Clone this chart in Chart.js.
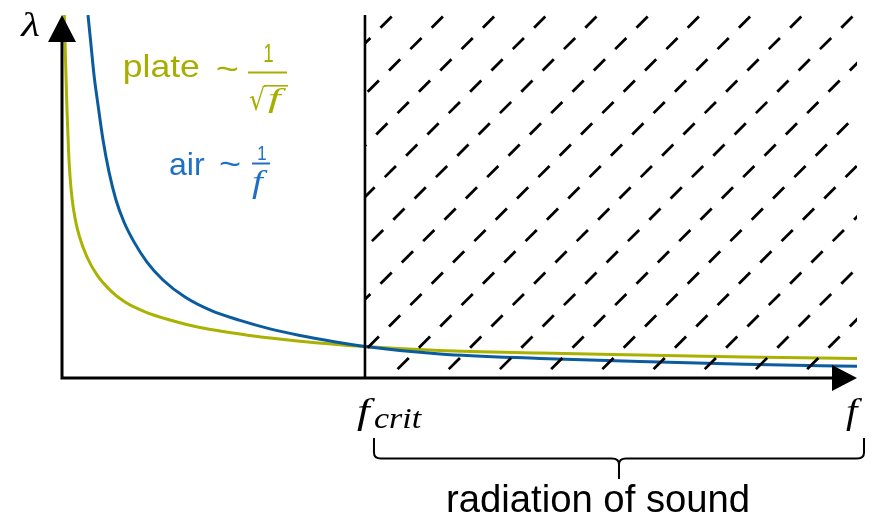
<!DOCTYPE html>
<html>
<head>
<meta charset="utf-8">
<script src="https://cdn.jsdelivr.net/npm/chart.js@4.4.1/dist/chart.umd.min.js"></script>
<style>
  html, body { margin: 0; padding: 0; background: #fff; }
  #wrap { width: 875px; height: 517px; }
</style>
</head>
<body>
<div id="wrap"><canvas id="lambdaChart" width="875" height="517"></canvas></div>
<script>
// ---------- data (f in units of f_crit, lambda in units of lambda(f_crit)) ----------
const AIR_F = [0.0858, 0.0957, 0.1056, 0.1188, 0.1353, 0.1551, 0.1782, 0.2046, 0.2376, 0.2805, 0.3333, 0.4059, 0.4950, 0.5875, 0.6865, 0.7855, 0.8944, 1.000, 1.2475, 1.5776, 1.9076, 2.2541, 2.624];
const AIR_LAMBDA = [11.52, 10.57, 9.62, 8.67, 7.56, 6.54, 5.65, 4.95, 4.32, 3.68, 3.11, 2.57, 2.13, 1.83, 1.56, 1.35, 1.16, 1.00, 0.76, 0.62, 0.52, 0.44, 0.37];

const PLATE_F = [0.0076, 0.0116, 0.0165, 0.0215, 0.0264, 0.0330, 0.0429, 0.0578, 0.0825, 0.1155, 0.1584, 0.2079, 0.2739, 0.3564, 0.4554, 0.6205, 0.7855, 1.000, 1.2475, 1.5776, 1.9076, 2.2541, 2.624];
const PLATE_LAMBDA = [11.52, 10.10, 8.51, 7.24, 6.41, 5.71, 5.08, 4.48, 3.84, 3.27, 2.79, 2.41, 2.10, 1.84, 1.60, 1.35, 1.17, 1.00, 0.87, 0.79, 0.73, 0.67, 0.62];

const F_CRIT = 1.0;
const F_MAX = 2.624;
const LAMBDA_MAX = 11.52;

const COLORS = {
  air: "#0B5C9E",
  airText: "#1F6FC5",
  plate: "#A9B200",
  plateText: "#A6AE00",
  ink: "#000000"
};

const toPoints = (xs, ys) => xs.map((x, i) => ({ x, y: ys[i] }));

// ---------- hatch pattern (dashed upward diagonals) ----------
function makeHatch() {
  const size = 256, step = 51.2, row = 256 / 12;
  const c = document.createElement("canvas");
  c.width = size; c.height = size;
  const g = c.getContext("2d");
  g.strokeStyle = COLORS.ink;
  g.lineWidth = 2.8;
  g.lineCap = "butt";
  const ox = 386.1 % size, oy = 22.2;
  g.beginPath();
  for (let j = -2; j <= 14; j++) {
    for (let k = -6; k <= 12; k++) {
      const cx = ox + k * step - j * row;
      const cy = oy + j * row;
      if (cx < -20 || cx > size + 20 || cy < -20 || cy > size + 20) continue;
      g.moveTo(cx - 5.6, cy + 5.6);
      g.lineTo(cx + 5.6, cy - 5.6);
    }
  }
  g.stroke();
  return g.createPattern(c, "repeat");
}

// ---------- axes with arrow heads ----------
const axesPlugin = {
  id: "arrowAxes",
  afterDatasetsDraw(chart) {
    const { ctx, chartArea, scales } = chart;
    const x0 = scales.x.getPixelForValue(0);
    const y0 = scales.y.getPixelForValue(0);
    ctx.save();
    ctx.strokeStyle = COLORS.ink;
    ctx.fillStyle = COLORS.ink;
    ctx.lineWidth = 3;
    ctx.beginPath();
    ctx.moveTo(x0, y0 + 1.5);
    ctx.lineTo(x0, chartArea.top + 20);
    ctx.moveTo(x0 - 1.5, y0);
    ctx.lineTo(chartArea.right - 20, y0);
    ctx.stroke();
    ctx.beginPath();
    ctx.moveTo(x0, chartArea.top);
    ctx.lineTo(x0 - 14, chartArea.top + 27);
    ctx.lineTo(x0 + 14, chartArea.top + 27);
    ctx.closePath();
    ctx.moveTo(chartArea.right, y0);
    ctx.lineTo(chartArea.right - 25, y0 - 13);
    ctx.lineTo(chartArea.right - 25, y0 + 13);
    ctx.closePath();
    ctx.fill();
    ctx.restore();
  }
};

// text fitted to an ink box: left edge x, baseline y, optional ink width
function drawText(ctx, txt, font, color, x, y, width) {
  ctx.save();
  ctx.font = font;
  ctx.fillStyle = color;
  ctx.textBaseline = "alphabetic";
  const m = ctx.measureText(txt);
  const ink = m.actualBoundingBoxLeft + m.actualBoundingBoxRight;
  const sx = width ? width / ink : 1;
  ctx.translate(x, y);
  ctx.scale(sx, 1);
  ctx.fillText(txt, m.actualBoundingBoxLeft, 0);
  ctx.restore();
  return { top: y - m.actualBoundingBoxAscent, right: x + (width || ink) };
}

function hLine(ctx, x1, x2, y, w, color) {
  ctx.save();
  ctx.strokeStyle = color;
  ctx.lineWidth = w;
  ctx.beginPath();
  ctx.moveTo(x1, y);
  ctx.lineTo(x2, y);
  ctx.stroke();
  ctx.restore();
}

const SANS = "'Liberation Sans', Arial, sans-serif";
const SERIF = "'Liberation Serif', 'DejaVu Serif', serif";

const labelsPlugin = {
  id: "labels",
  afterDraw(chart) {
    const { ctx, chartArea, scales } = chart;
    // axis symbols
    drawText(ctx, "λ", "italic 34px " + SERIF, COLORS.ink, 20, 36, 19);
    drawText(ctx, "f", "italic 36px " + SERIF, COLORS.ink, 357, 423, 19);
    drawText(ctx, "crit", "italic 30px " + SERIF, COLORS.ink, 374, 428, 48);
    drawText(ctx, "f", "italic 36px " + SERIF, COLORS.ink, 846, 423, 17);

    // plate ~ 1/sqrt(f)
    drawText(ctx, "plate", "32px " + SANS, COLORS.plateText, 125, 77, 74);
    drawText(ctx, "~", "34px " + SANS, COLORS.plateText, 217, 80, 21);
    drawText(ctx, "1", "25px " + SANS, COLORS.plateText, 264, 62, 9);
    hLine(ctx, 248, 287, 72.5, 2, COLORS.plateText);
    const rad = drawText(ctx, "√", "30px 'DejaVu Sans', sans-serif", COLORS.plateText, 249, 110, 17);
    hLine(ctx, rad.right - 2, 288, rad.top + 0.8, 1.6, COLORS.plateText);
    drawText(ctx, "f", "italic 28px " + SERIF, COLORS.plateText, 268, 107, 18);

    // air ~ 1/f
    drawText(ctx, "air", "32px " + SANS, COLORS.airText, 170, 175, 35);
    drawText(ctx, "~", "34px " + SANS, COLORS.airText, 220, 175, 20);
    drawText(ctx, "1", "21px " + SANS, COLORS.airText, 258, 160, 8);
    hLine(ctx, 252, 270, 163.5, 2, COLORS.airText);
    drawText(ctx, "f", "italic 32px " + SERIF, COLORS.airText, 252, 192, 16);

    // brace under the radiating range
    const left = scales.x.getPixelForValue(F_CRIT) + 9;
    const right = chartArea.right + 7;
    const mid = (left + right) / 2;
    const yb = 458.5;
    ctx.save();
    ctx.strokeStyle = COLORS.ink;
    ctx.lineWidth = 2;
    ctx.beginPath();
    ctx.moveTo(left, 438);
    ctx.lineTo(left, yb - 6);
    ctx.quadraticCurveTo(left, yb, left + 7, yb);
    ctx.lineTo(mid - 7, yb);
    ctx.quadraticCurveTo(mid, yb, mid, yb + 6);
    ctx.lineTo(mid, 479);
    ctx.moveTo(mid, yb + 6);
    ctx.quadraticCurveTo(mid, yb, mid + 7, yb);
    ctx.lineTo(right - 7, yb);
    ctx.quadraticCurveTo(right, yb, right, yb - 6);
    ctx.lineTo(right, 438);
    ctx.stroke();
    ctx.restore();

    drawText(ctx, "radiation of sound", "38px " + SANS, COLORS.ink, 448, 512, 300);
  }
};

const ctx = document.getElementById("lambdaChart");
new Chart(ctx, {
  type: "line",
  data: {
    datasets: [
      {
        label: "radiation",
        data: toPoints([F_CRIT, F_MAX], [LAMBDA_MAX, LAMBDA_MAX]),
        fill: "origin",
        backgroundColor: makeHatch(),
        borderColor: "rgba(0,0,0,0)",
        borderWidth: 0,
        pointRadius: 0
      },
      {
        label: "f_crit",
        data: toPoints([F_CRIT, F_CRIT], [0, LAMBDA_MAX]),
        borderColor: COLORS.ink,
        borderWidth: 2.6,
        pointRadius: 0,
        fill: false
      },
      {
        label: "air",
        data: toPoints(AIR_F, AIR_LAMBDA),
        borderColor: COLORS.air,
        borderWidth: 3,
        pointRadius: 0,
        cubicInterpolationMode: "monotone",
        fill: false
      },
      {
        label: "plate",
        data: toPoints(PLATE_F, PLATE_LAMBDA),
        borderColor: COLORS.plate,
        borderWidth: 3,
        pointRadius: 0,
        cubicInterpolationMode: "monotone",
        fill: false
      }
    ]
  },
  options: {
    responsive: false,
    animation: false,
    devicePixelRatio: 1,
    layout: { padding: { left: 62, right: 18, top: 15, bottom: 139 } },
    plugins: { legend: { display: false }, tooltip: { enabled: false } },
    scales: {
      x: { type: "linear", min: 0, max: F_MAX, display: false },
      y: { type: "linear", min: 0, max: LAMBDA_MAX, display: false }
    }
  },
  plugins: [axesPlugin, labelsPlugin]
});
</script>
</body>
</html>
